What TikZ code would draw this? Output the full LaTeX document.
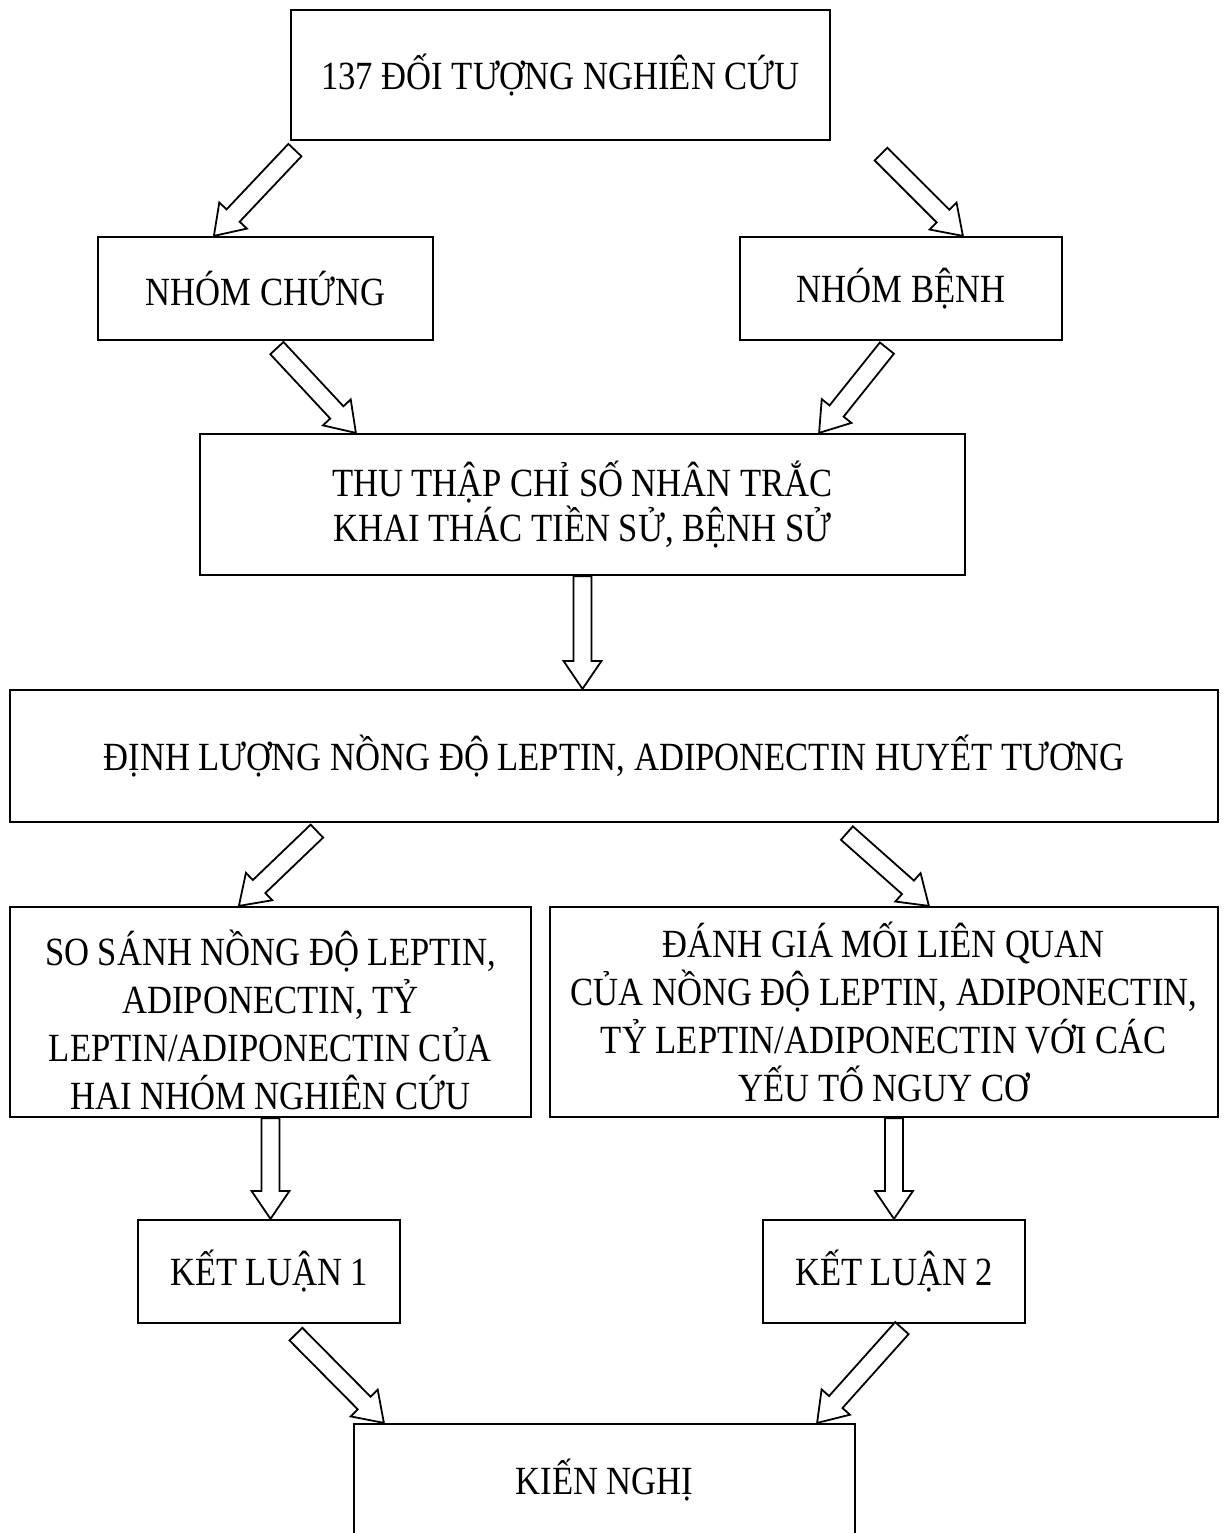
\documentclass[tikz,border=0pt]{standalone}
\usepackage{fontspec}
\setmainfont{Liberation Serif}[FakeStretch=0.865]
\usetikzlibrary{calc}
\tikzset{
  box/.style={draw,line width=1.1pt,fill=white,align=center,inner sep=0pt,
              font=\fontsize{20}{24}\selectfont},
  barrow/.style={draw,line width=0.9pt,fill=white,line join=miter},
}
% hollow block arrow from #1 to the tip #2
\newcommand{\blockarrow}[2]{%
  \coordinate (hb) at ($(#2)!14pt!(#1)$);
  \draw[barrow] ($(#1)!4.5pt!90:(#2)$) -- ($(hb)!4.5pt!90:(#2)$)
    -- ($(hb)!9.5pt!90:(#2)$) -- (#2) -- ($(hb)!9.5pt!-90:(#2)$)
    -- ($(hb)!4.5pt!-90:(#2)$) -- ($(#1)!4.5pt!-90:(#2)$) -- cycle;
}

\begin{document}
\begin{tikzpicture}[x=0.5pt,y=-0.5pt]
  \path[use as bounding box] (0,0) rectangle (1230,1533);

  \node[box,minimum width=269.5pt,minimum height=65pt] (obj) at (560.5,75)
    {137 ĐỐI TƯỢNG NGHIÊN CỨU};
  \node[box,minimum width=167.5pt,minimum height=51.5pt] (ctrl) at (265.5,288.5)
    {NHÓM CHỨNG};
  \node[box,minimum width=161pt,minimum height=51.5pt] (case) at (901,288.5)
    {NHÓM BỆNH};
  \node[box,minimum width=382.5pt,minimum height=70.5pt,
        font=\fontsize{20}{22.5}\selectfont] (collect) at (582.5,504.5)
    {THU THẬP CHỈ SỐ NHÂN TRẮC\\ KHAI THÁC TIỀN SỬ, BỆNH SỬ};
  \node[box,minimum width=604pt,minimum height=66pt] (assay) at (614,756)
    {ĐỊNH LƯỢNG NỒNG ĐỘ LEPTIN, ADIPONECTIN HUYẾT TƯƠNG};
  \node[box,minimum width=260.5pt,minimum height=105pt,
        text height=101pt,text depth=4pt] (compare) at (270.5,1012)
    {SO SÁNH NỒNG ĐỘ LEPTIN,\\ ADIPONECTIN, TỶ\\
     LEPTIN/ADIPONECTIN CỦA\\ HAI NHÓM NGHIÊN CỨU};
  \node[box,minimum width=334pt,minimum height=105pt] (assoc) at (884,1012)
    {ĐÁNH GIÁ MỐI LIÊN QUAN\\ CỦA NỒNG ĐỘ LEPTIN, ADIPONECTIN,\\
     TỶ LEPTIN/ADIPONECTIN VỚI CÁC\\ YẾU TỐ NGUY CƠ};
  \node[box,minimum width=131pt,minimum height=51.5pt] (concl1) at (269,1271.5)
    {KẾT LUẬN 1};
  \node[box,minimum width=131pt,minimum height=51.5pt] (concl2) at (894,1271.5)
    {KẾT LUẬN 2};
  \node[box,minimum width=250.5pt,minimum height=56pt] (recom) at (604.5,1480)
    {KIẾN NGHỊ};

  % arrow ends
  \coordinate (s1) at ($(obj.south west)+(5,9)$);
  \coordinate (t1) at ($(ctrl.north west)+(117,0)$);
  \coordinate (s2) at ($(obj.south east)+(50,13)$);
  \coordinate (t2) at ($(case.north west)+(224,0)$);
  \coordinate (s3) at ($(ctrl.south west)+(180,7)$);
  \coordinate (t3) at ($(collect.north west)+(157,0)$);
  \coordinate (s4) at ($(case.south west)+(148,7)$);
  \coordinate (t4) at ($(collect.north east)+(-147,0)$);
  \coordinate (s6) at ($(assay.south west)+(308,8)$);
  \coordinate (t6) at ($(compare.north west)+(230,0)$);
  \coordinate (s7) at ($(assay.south west)+(838,10)$);
  \coordinate (t7) at ($(assoc.north west)+(380,0)$);
  \coordinate (s10) at ($(concl1.south west)+(159,10)$);
  \coordinate (t10) at ($(recom.north west)+(31,0)$);
  \coordinate (s11) at ($(concl2.south west)+(140,4)$);
  \coordinate (t11) at ($(recom.north east)+(-39,0)$);
  \coordinate (t5) at (collect.south |- assay.north);
  \coordinate (t8) at (compare.south |- concl1.north);
  \coordinate (s9) at (concl2.north |- assoc.south);

  \blockarrow{s1}{t1}
  \blockarrow{s2}{t2}
  \blockarrow{s3}{t3}
  \blockarrow{s4}{t4}
  \blockarrow{collect.south}{t5}
  \blockarrow{s6}{t6}
  \blockarrow{s7}{t7}
  \blockarrow{compare.south}{t8}
  \blockarrow{s9}{concl2.north}
  \blockarrow{s10}{t10}
  \blockarrow{s11}{t11}
\end{tikzpicture}
\end{document}
